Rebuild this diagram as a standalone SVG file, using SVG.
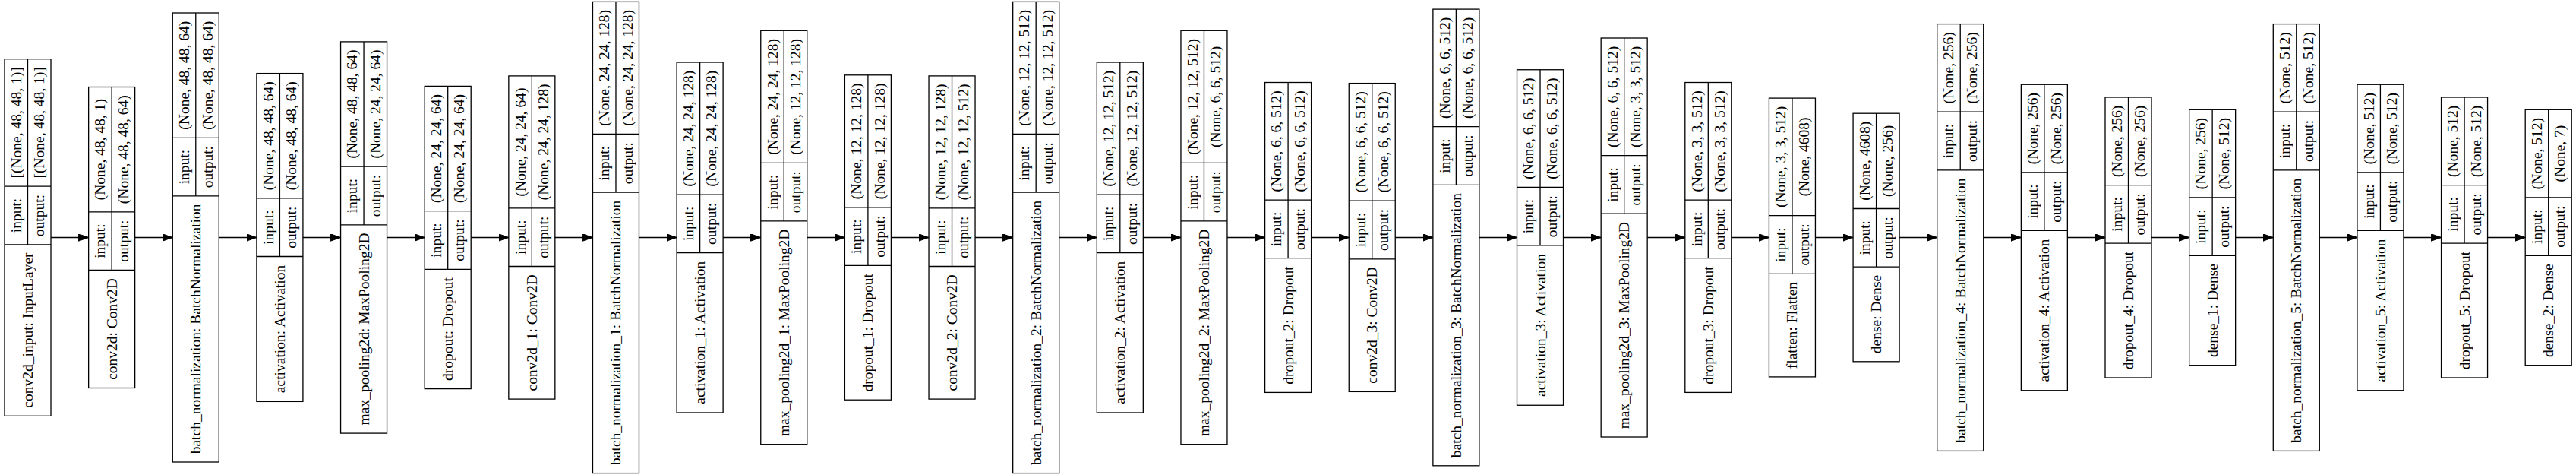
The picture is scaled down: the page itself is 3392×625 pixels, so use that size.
<svg xmlns="http://www.w3.org/2000/svg" width="3392" height="625" viewBox="0 0 3392 625">
<style>
.bx{fill:none;stroke:#000;stroke-width:1.3}
text{font-family:"Liberation Serif","Times New Roman",serif;font-size:19.5px;fill:#000;text-anchor:middle;dominant-baseline:central}
.e{stroke:#000;stroke-width:1.3;fill:none;marker-end:url(#ah)}
</style>
<defs>
<marker id="ah" markerUnits="userSpaceOnUse" markerWidth="14" markerHeight="10" refX="13.3" refY="4.7" orient="auto"><path d="M0,0L13.3,4.7L0,9.4Z" fill="#000" stroke="#000" stroke-width="1"/></marker>
</defs>
<rect width="3392" height="625" fill="#fff"/>

<g id="edges">
<path class="e" d="M67,312.5H116.64"/>
<path class="e" d="M177.64,312.5H227.28"/>
<path class="e" d="M288.28,312.5H337.92"/>
<path class="e" d="M398.92,312.5H448.56"/>
<path class="e" d="M509.56,312.5H559.2"/>
<path class="e" d="M620.2,312.5H669.84"/>
<path class="e" d="M730.84,312.5H780.48"/>
<path class="e" d="M841.48,312.5H891.12"/>
<path class="e" d="M952.12,312.5H1001.76"/>
<path class="e" d="M1062.76,312.5H1112.4"/>
<path class="e" d="M1173.4,312.5H1223.04"/>
<path class="e" d="M1284.04,312.5H1333.68"/>
<path class="e" d="M1394.68,312.5H1444.32"/>
<path class="e" d="M1505.32,312.5H1554.96"/>
<path class="e" d="M1615.96,312.5H1665.6"/>
<path class="e" d="M1726.6,312.5H1776.24"/>
<path class="e" d="M1837.24,312.5H1886.88"/>
<path class="e" d="M1947.88,312.5H1997.52"/>
<path class="e" d="M2058.52,312.5H2108.16"/>
<path class="e" d="M2169.16,312.5H2218.8"/>
<path class="e" d="M2279.8,312.5H2329.44"/>
<path class="e" d="M2390.44,312.5H2440.08"/>
<path class="e" d="M2501.08,312.5H2550.72"/>
<path class="e" d="M2611.72,312.5H2661.36"/>
<path class="e" d="M2722.36,312.5H2772"/>
<path class="e" d="M2833,312.5H2882.64"/>
<path class="e" d="M2943.64,312.5H2993.28"/>
<path class="e" d="M3054.28,312.5H3103.92"/>
<path class="e" d="M3164.92,312.5H3214.56"/>
<path class="e" d="M3275.56,312.5H3325.2"/>
</g>

<g id="conv2d_input" transform="translate(6,0)">
<rect class="bx" x="0" y="77.7" width="61" height="469.6"/>
<path class="bx" d="M0,245.2H61M0,321.8H61M30.5,77.7V321.8"/>
<text transform="translate(15.25,161.45) rotate(-90)">[(None, 48, 48, 1)]</text>
<text transform="translate(45.75,161.45) rotate(-90)">[(None, 48, 48, 1)]</text>
<text transform="translate(15.25,283.5) rotate(-90)">input:</text>
<text transform="translate(45.75,283.5) rotate(-90)">output:</text>
<text transform="translate(30.5,434.55) rotate(-90)">conv2d_input: InputLayer</text>
</g>

<g id="conv2d" transform="translate(116.64,0)">
<rect class="bx" x="0" y="114.5" width="61" height="396"/>
<path class="bx" d="M0,278.8H61M0,355.4H61M30.5,114.5V355.4"/>
<text transform="translate(15.25,196.65) rotate(-90)">(None, 48, 48, 1)</text>
<text transform="translate(45.75,196.65) rotate(-90)">(None, 48, 48, 64)</text>
<text transform="translate(15.25,317.1) rotate(-90)">input:</text>
<text transform="translate(45.75,317.1) rotate(-90)">output:</text>
<text transform="translate(30.5,432.95) rotate(-90)">conv2d: Conv2D</text>
</g>

<g id="batch_normalization" transform="translate(227.28,0)">
<rect class="bx" x="0" y="17" width="61" height="591"/>
<path class="bx" d="M0,181.3H61M0,257.9H61M30.5,17V257.9"/>
<text transform="translate(15.25,99.15) rotate(-90)">(None, 48, 48, 64)</text>
<text transform="translate(45.75,99.15) rotate(-90)">(None, 48, 48, 64)</text>
<text transform="translate(15.25,219.6) rotate(-90)">input:</text>
<text transform="translate(45.75,219.6) rotate(-90)">output:</text>
<text transform="translate(30.5,432.95) rotate(-90)">batch_normalization: BatchNormalization</text>
</g>

<g id="activation" transform="translate(337.92,0)">
<rect class="bx" x="0" y="96.6" width="61" height="431.8"/>
<path class="bx" d="M0,260.9H61M0,337.5H61M30.5,96.6V337.5"/>
<text transform="translate(15.25,178.75) rotate(-90)">(None, 48, 48, 64)</text>
<text transform="translate(45.75,178.75) rotate(-90)">(None, 48, 48, 64)</text>
<text transform="translate(15.25,299.2) rotate(-90)">input:</text>
<text transform="translate(45.75,299.2) rotate(-90)">output:</text>
<text transform="translate(30.5,432.95) rotate(-90)">activation: Activation</text>
</g>

<g id="max_pooling2d" transform="translate(448.56,0)">
<rect class="bx" x="0" y="54.9" width="61" height="515.2"/>
<path class="bx" d="M0,219.2H61M0,295.8H61M30.5,54.9V295.8"/>
<text transform="translate(15.25,137.05) rotate(-90)">(None, 48, 48, 64)</text>
<text transform="translate(45.75,137.05) rotate(-90)">(None, 24, 24, 64)</text>
<text transform="translate(15.25,257.5) rotate(-90)">input:</text>
<text transform="translate(45.75,257.5) rotate(-90)">output:</text>
<text transform="translate(30.5,432.95) rotate(-90)">max_pooling2d: MaxPooling2D</text>
</g>

<g id="dropout" transform="translate(559.2,0)">
<rect class="bx" x="0" y="113.4" width="61" height="398.2"/>
<path class="bx" d="M0,277.7H61M0,354.3H61M30.5,113.4V354.3"/>
<text transform="translate(15.25,195.55) rotate(-90)">(None, 24, 24, 64)</text>
<text transform="translate(45.75,195.55) rotate(-90)">(None, 24, 24, 64)</text>
<text transform="translate(15.25,316) rotate(-90)">input:</text>
<text transform="translate(45.75,316) rotate(-90)">output:</text>
<text transform="translate(30.5,432.95) rotate(-90)">dropout: Dropout</text>
</g>

<g id="conv2d_1" transform="translate(669.84,0)">
<rect class="bx" x="0" y="99.9" width="61" height="425.2"/>
<path class="bx" d="M0,273.9H61M0,350.5H61M30.5,99.9V350.5"/>
<text transform="translate(15.25,186.9) rotate(-90)">(None, 24, 24, 64)</text>
<text transform="translate(45.75,186.9) rotate(-90)">(None, 24, 24, 128)</text>
<text transform="translate(15.25,312.2) rotate(-90)">input:</text>
<text transform="translate(45.75,312.2) rotate(-90)">output:</text>
<text transform="translate(30.5,437.82) rotate(-90)">conv2d_1: Conv2D</text>
</g>

<g id="batch_normalization_1" transform="translate(780.48,0)">
<rect class="bx" x="0" y="2.4" width="61" height="620.2"/>
<path class="bx" d="M0,176.4H61M0,253H61M30.5,2.4V253"/>
<text transform="translate(15.25,89.41) rotate(-90)">(None, 24, 24, 128)</text>
<text transform="translate(45.75,89.41) rotate(-90)">(None, 24, 24, 128)</text>
<text transform="translate(15.25,214.73) rotate(-90)">input:</text>
<text transform="translate(45.75,214.73) rotate(-90)">output:</text>
<text transform="translate(30.5,437.82) rotate(-90)">batch_normalization_1: BatchNormalization</text>
</g>

<g id="activation_1" transform="translate(891.12,0)">
<rect class="bx" x="0" y="82" width="61" height="461"/>
<path class="bx" d="M0,256.05H61M0,332.64H61M30.5,82V332.64"/>
<text transform="translate(15.25,169.02) rotate(-90)">(None, 24, 24, 128)</text>
<text transform="translate(45.75,169.02) rotate(-90)">(None, 24, 24, 128)</text>
<text transform="translate(15.25,294.35) rotate(-90)">input:</text>
<text transform="translate(45.75,294.35) rotate(-90)">output:</text>
<text transform="translate(30.5,437.82) rotate(-90)">activation_1: Activation</text>
</g>

<g id="max_pooling2d_1" transform="translate(1001.76,0)">
<rect class="bx" x="0" y="40.3" width="61" height="544.4"/>
<path class="bx" d="M0,214.3H61M0,290.9H61M30.5,40.3V290.9"/>
<text transform="translate(15.25,127.3) rotate(-90)">(None, 24, 24, 128)</text>
<text transform="translate(45.75,127.3) rotate(-90)">(None, 12, 12, 128)</text>
<text transform="translate(15.25,252.63) rotate(-90)">input:</text>
<text transform="translate(45.75,252.63) rotate(-90)">output:</text>
<text transform="translate(30.5,437.82) rotate(-90)">max_pooling2d_1: MaxPooling2D</text>
</g>

<g id="dropout_1" transform="translate(1112.4,0)">
<rect class="bx" x="0" y="98.8" width="61" height="427.4"/>
<path class="bx" d="M0,272.8H61M0,349.4H61M30.5,98.8V349.4"/>
<text transform="translate(15.25,185.81) rotate(-90)">(None, 12, 12, 128)</text>
<text transform="translate(45.75,185.81) rotate(-90)">(None, 12, 12, 128)</text>
<text transform="translate(15.25,311.14) rotate(-90)">input:</text>
<text transform="translate(45.75,311.14) rotate(-90)">output:</text>
<text transform="translate(30.5,437.82) rotate(-90)">dropout_1: Dropout</text>
</g>

<g id="conv2d_2" transform="translate(1223.04,0)">
<rect class="bx" x="0" y="99.9" width="61" height="425.2"/>
<path class="bx" d="M0,273.9H61M0,350.5H61M30.5,99.9V350.5"/>
<text transform="translate(15.25,186.9) rotate(-90)">(None, 12, 12, 128)</text>
<text transform="translate(45.75,186.9) rotate(-90)">(None, 12, 12, 512)</text>
<text transform="translate(15.25,312.2) rotate(-90)">input:</text>
<text transform="translate(45.75,312.2) rotate(-90)">output:</text>
<text transform="translate(30.5,437.82) rotate(-90)">conv2d_2: Conv2D</text>
</g>

<g id="batch_normalization_2" transform="translate(1333.68,0)">
<rect class="bx" x="0" y="2.4" width="61" height="620.2"/>
<path class="bx" d="M0,176.4H61M0,253H61M30.5,2.4V253"/>
<text transform="translate(15.25,89.41) rotate(-90)">(None, 12, 12, 512)</text>
<text transform="translate(45.75,89.41) rotate(-90)">(None, 12, 12, 512)</text>
<text transform="translate(15.25,214.73) rotate(-90)">input:</text>
<text transform="translate(45.75,214.73) rotate(-90)">output:</text>
<text transform="translate(30.5,437.82) rotate(-90)">batch_normalization_2: BatchNormalization</text>
</g>

<g id="activation_2" transform="translate(1444.32,0)">
<rect class="bx" x="0" y="82" width="61" height="461"/>
<path class="bx" d="M0,256.05H61M0,332.64H61M30.5,82V332.64"/>
<text transform="translate(15.25,169.02) rotate(-90)">(None, 12, 12, 512)</text>
<text transform="translate(45.75,169.02) rotate(-90)">(None, 12, 12, 512)</text>
<text transform="translate(15.25,294.35) rotate(-90)">input:</text>
<text transform="translate(45.75,294.35) rotate(-90)">output:</text>
<text transform="translate(30.5,437.82) rotate(-90)">activation_2: Activation</text>
</g>

<g id="max_pooling2d_2" transform="translate(1554.96,0)">
<rect class="bx" x="0" y="40.3" width="61" height="544.4"/>
<path class="bx" d="M0,214.3H61M0,290.9H61M30.5,40.3V290.9"/>
<text transform="translate(15.25,127.3) rotate(-90)">(None, 12, 12, 512)</text>
<text transform="translate(45.75,127.3) rotate(-90)">(None, 6, 6, 512)</text>
<text transform="translate(15.25,252.63) rotate(-90)">input:</text>
<text transform="translate(45.75,252.63) rotate(-90)">output:</text>
<text transform="translate(30.5,437.82) rotate(-90)">max_pooling2d_2: MaxPooling2D</text>
</g>

<g id="dropout_2" transform="translate(1665.6,0)">
<rect class="bx" x="0" y="108.5" width="61" height="407.9"/>
<path class="bx" d="M0,263.1H61M0,339.7H61M30.5,108.5V339.7"/>
<text transform="translate(15.25,185.81) rotate(-90)">(None, 6, 6, 512)</text>
<text transform="translate(45.75,185.81) rotate(-90)">(None, 6, 6, 512)</text>
<text transform="translate(15.25,301.39) rotate(-90)">input:</text>
<text transform="translate(45.75,301.39) rotate(-90)">output:</text>
<text transform="translate(30.5,428.07) rotate(-90)">dropout_2: Dropout</text>
</g>

<g id="conv2d_3" transform="translate(1776.24,0)">
<rect class="bx" x="0" y="109.6" width="61" height="405.8"/>
<path class="bx" d="M0,264.2H61M0,340.8H61M30.5,109.6V340.8"/>
<text transform="translate(15.25,186.9) rotate(-90)">(None, 6, 6, 512)</text>
<text transform="translate(45.75,186.9) rotate(-90)">(None, 6, 6, 512)</text>
<text transform="translate(15.25,302.47) rotate(-90)">input:</text>
<text transform="translate(45.75,302.47) rotate(-90)">output:</text>
<text transform="translate(30.5,428.07) rotate(-90)">conv2d_3: Conv2D</text>
</g>

<g id="batch_normalization_3" transform="translate(1886.88,0)">
<rect class="bx" x="0" y="12.1" width="61" height="600.7"/>
<path class="bx" d="M0,166.7H61M0,243.3H61M30.5,12.1V243.3"/>
<text transform="translate(15.25,89.41) rotate(-90)">(None, 6, 6, 512)</text>
<text transform="translate(45.75,89.41) rotate(-90)">(None, 6, 6, 512)</text>
<text transform="translate(15.25,204.99) rotate(-90)">input:</text>
<text transform="translate(45.75,204.99) rotate(-90)">output:</text>
<text transform="translate(30.5,428.07) rotate(-90)">batch_normalization_3: BatchNormalization</text>
</g>

<g id="activation_3" transform="translate(1997.52,0)">
<rect class="bx" x="0" y="91.75" width="61" height="441.5"/>
<path class="bx" d="M0,246.3H61M0,322.9H61M30.5,91.75V322.9"/>
<text transform="translate(15.25,169.02) rotate(-90)">(None, 6, 6, 512)</text>
<text transform="translate(45.75,169.02) rotate(-90)">(None, 6, 6, 512)</text>
<text transform="translate(15.25,284.6) rotate(-90)">input:</text>
<text transform="translate(45.75,284.6) rotate(-90)">output:</text>
<text transform="translate(30.5,428.07) rotate(-90)">activation_3: Activation</text>
</g>

<g id="max_pooling2d_3" transform="translate(2108.16,0)">
<rect class="bx" x="0" y="50" width="61" height="525"/>
<path class="bx" d="M0,204.6H61M0,281.2H61M30.5,50V281.2"/>
<text transform="translate(15.25,127.3) rotate(-90)">(None, 6, 6, 512)</text>
<text transform="translate(45.75,127.3) rotate(-90)">(None, 3, 3, 512)</text>
<text transform="translate(15.25,242.88) rotate(-90)">input:</text>
<text transform="translate(45.75,242.88) rotate(-90)">output:</text>
<text transform="translate(30.5,428.07) rotate(-90)">max_pooling2d_3: MaxPooling2D</text>
</g>

<g id="dropout_3" transform="translate(2218.8,0)">
<rect class="bx" x="0" y="108.5" width="61" height="407.9"/>
<path class="bx" d="M0,263.1H61M0,339.7H61M30.5,108.5V339.7"/>
<text transform="translate(15.25,185.81) rotate(-90)">(None, 3, 3, 512)</text>
<text transform="translate(45.75,185.81) rotate(-90)">(None, 3, 3, 512)</text>
<text transform="translate(15.25,301.39) rotate(-90)">input:</text>
<text transform="translate(45.75,301.39) rotate(-90)">output:</text>
<text transform="translate(30.5,428.07) rotate(-90)">dropout_3: Dropout</text>
</g>

<g id="flatten" transform="translate(2329.44,0)">
<rect class="bx" x="0" y="129.1" width="61" height="366.8"/>
<path class="bx" d="M0,283.7H61M0,360.3H61M30.5,129.1V360.3"/>
<text transform="translate(15.25,206.39) rotate(-90)">(None, 3, 3, 512)</text>
<text transform="translate(45.75,206.39) rotate(-90)">(None, 4608)</text>
<text transform="translate(15.25,321.97) rotate(-90)">input:</text>
<text transform="translate(45.75,321.97) rotate(-90)">output:</text>
<text transform="translate(30.5,428.07) rotate(-90)">flatten: Flatten</text>
</g>

<g id="dense" transform="translate(2440.08,0)">
<rect class="bx" x="0" y="149.2" width="61" height="326.6"/>
<path class="bx" d="M0,274.5H61M0,351.1H61M30.5,149.2V351.1"/>
<text transform="translate(15.25,211.82) rotate(-90)">(None, 4608)</text>
<text transform="translate(45.75,211.82) rotate(-90)">(None, 256)</text>
<text transform="translate(15.25,312.77) rotate(-90)">input:</text>
<text transform="translate(45.75,312.77) rotate(-90)">output:</text>
<text transform="translate(30.5,413.45) rotate(-90)">dense: Dense</text>
</g>

<g id="batch_normalization_4" transform="translate(2550.72,0)">
<rect class="bx" x="0" y="31.6" width="61" height="561.8"/>
<path class="bx" d="M0,147.2H61M0,223.8H61M30.5,31.6V223.8"/>
<text transform="translate(15.25,89.41) rotate(-90)">(None, 256)</text>
<text transform="translate(45.75,89.41) rotate(-90)">(None, 256)</text>
<text transform="translate(15.25,185.49) rotate(-90)">input:</text>
<text transform="translate(45.75,185.49) rotate(-90)">output:</text>
<text transform="translate(30.5,408.57) rotate(-90)">batch_normalization_4: BatchNormalization</text>
</g>

<g id="activation_4" transform="translate(2661.36,0)">
<rect class="bx" x="0" y="111.25" width="61" height="402.5"/>
<path class="bx" d="M0,226.8H61M0,303.4H61M30.5,111.25V303.4"/>
<text transform="translate(15.25,169.02) rotate(-90)">(None, 256)</text>
<text transform="translate(45.75,169.02) rotate(-90)">(None, 256)</text>
<text transform="translate(15.25,265.1) rotate(-90)">input:</text>
<text transform="translate(45.75,265.1) rotate(-90)">output:</text>
<text transform="translate(30.5,408.57) rotate(-90)">activation_4: Activation</text>
</g>

<g id="dropout_4" transform="translate(2772,0)">
<rect class="bx" x="0" y="128" width="61" height="369"/>
<path class="bx" d="M0,243.6H61M0,320.2H61M30.5,128V320.2"/>
<text transform="translate(15.25,185.81) rotate(-90)">(None, 256)</text>
<text transform="translate(45.75,185.81) rotate(-90)">(None, 256)</text>
<text transform="translate(15.25,281.89) rotate(-90)">input:</text>
<text transform="translate(45.75,281.89) rotate(-90)">output:</text>
<text transform="translate(30.5,408.57) rotate(-90)">dropout_4: Dropout</text>
</g>

<g id="dense_1" transform="translate(2882.64,0)">
<rect class="bx" x="0" y="144.3" width="61" height="336.4"/>
<path class="bx" d="M0,259.85H61M0,336.44H61M30.5,144.3V336.44"/>
<text transform="translate(15.25,202.07) rotate(-90)">(None, 256)</text>
<text transform="translate(45.75,202.07) rotate(-90)">(None, 512)</text>
<text transform="translate(15.25,298.15) rotate(-90)">input:</text>
<text transform="translate(45.75,298.15) rotate(-90)">output:</text>
<text transform="translate(30.5,408.57) rotate(-90)">dense_1: Dense</text>
</g>

<g id="batch_normalization_5" transform="translate(2993.28,0)">
<rect class="bx" x="0" y="31.6" width="61" height="561.8"/>
<path class="bx" d="M0,147.2H61M0,223.8H61M30.5,31.6V223.8"/>
<text transform="translate(15.25,89.41) rotate(-90)">(None, 512)</text>
<text transform="translate(45.75,89.41) rotate(-90)">(None, 512)</text>
<text transform="translate(15.25,185.49) rotate(-90)">input:</text>
<text transform="translate(45.75,185.49) rotate(-90)">output:</text>
<text transform="translate(30.5,408.57) rotate(-90)">batch_normalization_5: BatchNormalization</text>
</g>

<g id="activation_5" transform="translate(3103.92,0)">
<rect class="bx" x="0" y="111.25" width="61" height="402.5"/>
<path class="bx" d="M0,226.8H61M0,303.4H61M30.5,111.25V303.4"/>
<text transform="translate(15.25,169.02) rotate(-90)">(None, 512)</text>
<text transform="translate(45.75,169.02) rotate(-90)">(None, 512)</text>
<text transform="translate(15.25,265.1) rotate(-90)">input:</text>
<text transform="translate(45.75,265.1) rotate(-90)">output:</text>
<text transform="translate(30.5,408.57) rotate(-90)">activation_5: Activation</text>
</g>

<g id="dropout_5" transform="translate(3214.56,0)">
<rect class="bx" x="0" y="128" width="61" height="369"/>
<path class="bx" d="M0,243.6H61M0,320.2H61M30.5,128V320.2"/>
<text transform="translate(15.25,185.81) rotate(-90)">(None, 512)</text>
<text transform="translate(45.75,185.81) rotate(-90)">(None, 512)</text>
<text transform="translate(15.25,281.89) rotate(-90)">input:</text>
<text transform="translate(45.75,281.89) rotate(-90)">output:</text>
<text transform="translate(30.5,408.57) rotate(-90)">dropout_5: Dropout</text>
</g>

<g id="dense_2" transform="translate(3325.2,0)">
<rect class="bx" x="0" y="144.3" width="61" height="336.4"/>
<path class="bx" d="M0,259.85H61M0,336.44H61M30.5,144.3V336.44"/>
<text transform="translate(15.25,202.07) rotate(-90)">(None, 512)</text>
<text transform="translate(45.75,202.07) rotate(-90)">(None, 7)</text>
<text transform="translate(15.25,298.15) rotate(-90)">input:</text>
<text transform="translate(45.75,298.15) rotate(-90)">output:</text>
<text transform="translate(30.5,408.57) rotate(-90)">dense_2: Dense</text>
</g>
</svg>
